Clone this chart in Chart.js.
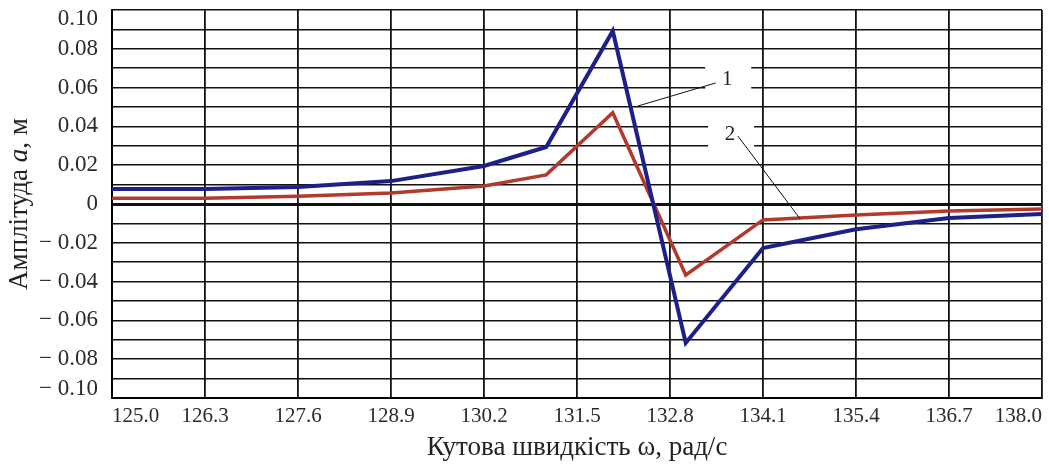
<!DOCTYPE html>
<html>
<head>
<meta charset="utf-8">
<script src="https://cdn.jsdelivr.net/npm/chart.js@4.4.1/dist/chart.umd.min.js"></script>
<style>
  html, body { margin: 0; padding: 0; background: #fff; }
  canvas { display: block; }
</style>
</head>
<body>
<canvas id="amp-chart" width="1049" height="468"></canvas>
<script>
// angular speed, rad/s
const omega = [125.0, 126.3, 127.6, 128.9, 130.2, 131.07, 132.0, 133.02, 134.1, 135.4, 136.7, 138.0];

// amplitude, m
const curve1 = [0.0077, 0.0077, 0.0088, 0.0118, 0.0196, 0.0294, 0.0892, -0.0716, -0.0227, -0.013, -0.0072, -0.0052];
const curve2 = [0.003, 0.003, 0.004, 0.0057, 0.0093, 0.015, 0.047, -0.0366, -0.0082, -0.0057, -0.0036, -0.0026];

const xTicks = [125.0, 126.3, 127.6, 128.9, 130.2, 131.5, 132.8, 134.1, 135.4, 136.7, 138.0];

const serif = '"Liberation Serif", "Times New Roman", serif';

function toPoints(ys) {
    return omega.map((x, i) => ({ x: x, y: ys[i] }));
}

// callout labels "1" and "2" with leader lines
const callouts = [
    { text: '1', at: [133.6, 0.064], from: [132.35, 0.0505], to: [133.44, 0.0624] },
    { text: '2', at: [133.64, 0.036], from: [133.75, 0.035], to: [134.62, -0.0077] }
];

const calloutPlugin = {
    id: 'callouts',
    afterDatasetsDraw(chart) {
        const c = chart.ctx;
        const xs = chart.scales.x, ys = chart.scales.y;
        c.save();
        callouts.forEach(co => {
            const px = xs.getPixelForValue(co.at[0]);
            const py = ys.getPixelForValue(co.at[1]);
            c.fillStyle = '#fff';
            c.fillRect(px - 22, py - 13, 46, 27);
        });
        c.strokeStyle = '#111';
        c.lineWidth = 1;
        callouts.forEach(co => {
            c.beginPath();
            c.moveTo(xs.getPixelForValue(co.from[0]), ys.getPixelForValue(co.from[1]));
            c.lineTo(xs.getPixelForValue(co.to[0]), ys.getPixelForValue(co.to[1]));
            c.stroke();
        });
        c.fillStyle = '#222';
        c.font = '21px ' + serif;
        c.textAlign = 'center';
        c.textBaseline = 'middle';
        callouts.forEach(co => {
            c.fillText(co.text, xs.getPixelForValue(co.at[0]), ys.getPixelForValue(co.at[1]));
        });
        c.restore();
    }
};

// y axis title with an italic "a"
const yTitleParts = [
    { text: 'Амплітуда ', italic: false },
    { text: 'a', italic: true },
    { text: ', м', italic: false }
];

const yTitlePlugin = {
    id: 'yTitle',
    afterDraw(chart) {
        const c = chart.ctx;
        const area = chart.chartArea;
        const size = 27;
        const fontOf = p => (p.italic ? 'italic ' : '') + size + 'px ' + serif;
        c.save();
        let total = 0;
        yTitleParts.forEach(p => { c.font = fontOf(p); total += c.measureText(p.text).width; });
        c.translate(20, (area.top + area.bottom) / 2);
        c.rotate(-Math.PI / 2);
        c.fillStyle = '#222';
        c.textBaseline = 'middle';
        c.textAlign = 'left';
        let x = -total / 2;
        yTitleParts.forEach(p => {
            c.font = fontOf(p);
            c.fillText(p.text, x, 0);
            x += c.measureText(p.text).width;
        });
        c.restore();
    }
};

function yLabel(v) {
    const n = Math.round(v * 100);
    if (n % 2 !== 0) return '';
    let s;
    if (n === 0) s = '0';
    else if (n > 0) s = (n / 100).toFixed(2);
    else s = '\u2212 ' + (-n / 100).toFixed(2);
    // nudge the end labels inside the plot
    if (n === 10) return ['', s];
    if (n === -10) return [s, ''];
    return s;
}

let ctx = document.getElementById('amp-chart').getContext('2d');

let chart = new Chart(ctx, {
    type: 'line',
    data: {
        datasets: [{
            label: '1',
            data: toPoints(curve1),
            borderColor: '#1c2088',
            borderWidth: 4,
            pointRadius: 0,
            tension: 0,
            order: 0
        }, {
            label: '2',
            data: toPoints(curve2),
            borderColor: '#b23a2c',
            borderWidth: 3.5,
            pointRadius: 0,
            tension: 0,
            order: 1
        }]
    },
    options: {
        responsive: false,
        animation: false,
        layout: { padding: { top: 10, right: 7, left: 0, bottom: 0 } },
        plugins: {
            legend: { display: false },
            tooltip: { enabled: false }
        },
        scales: {
            x: {
                type: 'linear',
                min: 125,
                max: 138,
                afterBuildTicks: s => { s.ticks = xTicks.map(v => ({ value: v })); },
                afterFit: s => { s.height = 70; s.paddingLeft = 0; s.paddingRight = 0; },
                grid: { color: '#111', lineWidth: 1.8, drawTicks: false },
                border: { color: '#000', width: 2 },
                ticks: {
                    autoSkip: false,
                    maxRotation: 0,
                    align: 'inner',
                    padding: 6,
                    color: '#2a2a2a',
                    font: { family: serif, size: 21 },
                    callback: v => v.toFixed(1)
                },
                title: {
                    display: true,
                    text: 'Кутова швидкість ω, рад/с',
                    color: '#222',
                    font: { family: serif, size: 27 },
                    padding: { top: 0, bottom: 4 }
                }
            },
            y: {
                min: -0.1,
                max: 0.1,
                afterFit: s => { s.width = 112; s.paddingTop = 0; s.paddingBottom = 0; },
                grid: {
                    color: '#111',
                    lineWidth: c => (c.tick && Math.round(c.tick.value * 100) === 0) ? 3 : 1.5,
                    drawTicks: false
                },
                border: { color: '#000', width: 2 },
                ticks: {
                    stepSize: 0.01,
                    autoSkip: false,
                    padding: 14,
                    color: '#2a2a2a',
                    font: { family: serif, size: 23, lineHeight: 0.75 },
                    callback: yLabel
                },
                title: { display: false }
            }
        }
    },
    plugins: [calloutPlugin, yTitlePlugin]
});
</script>
</body>
</html>
